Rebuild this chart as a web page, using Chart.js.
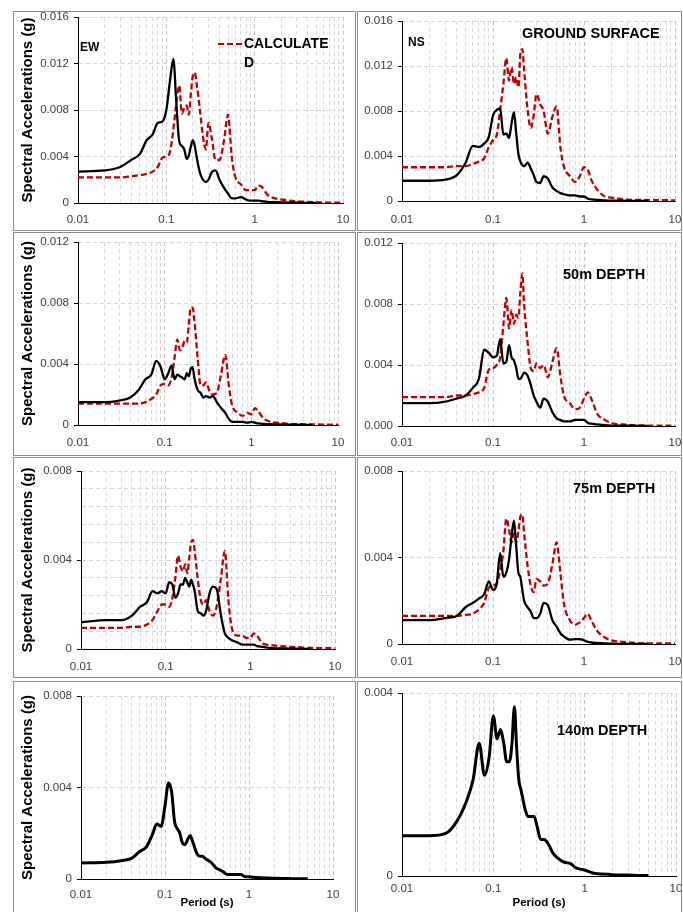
<!DOCTYPE html>
<html>
<head>
<meta charset="utf-8">
<script src="https://cdn.jsdelivr.net/npm/chart.js@4.4.0/dist/chart.umd.min.js"></script>
<style>
  html, body { margin: 0; padding: 0; background: #fff; }
  body { width: 683px; height: 912px; position: relative; overflow: hidden; }
  .panel { position: absolute; box-sizing: border-box; border: 1px solid #8c8c8c; background: #fff; }
  .panel canvas { display: block; }
</style>
</head>
<body>
<script>
// periods (s) shared by every curve
const periods = [
  0.01, 0.02, 0.03, 0.04, 0.05, 0.06, 0.07, 0.08, 0.09,
  0.1, 0.11, 0.12, 0.13, 0.14, 0.15, 0.16, 0.17, 0.18, 0.19,
  0.2, 0.21, 0.22, 0.24, 0.26, 0.28, 0.3, 0.33, 0.36, 0.4, 0.45, 0.5, 0.55, 0.6, 0.7, 0.8, 0.9,
  1.0, 1.1, 1.2, 1.4, 1.7, 2, 3, 4, 5, 7, 10
];
const xTicks = [
  0.01, 0.02, 0.03, 0.04, 0.05, 0.06, 0.07, 0.08, 0.09,
  0.1, 0.2, 0.3, 0.4, 0.5, 0.6, 0.7, 0.8, 0.9,
  1, 2, 3, 4, 5, 6, 7, 8, 9, 10
];
const xLabels = [0.01, 0.1, 1, 10];

// ground surface
const ewSurfObs = [
  0.0027, 0.0028, 0.0031, 0.0037, 0.0042, 0.0054, 0.0059, 0.0069, 0.0070,
  0.0080, 0.0105, 0.0124, 0.0085, 0.0053, 0.0049, 0.0046, 0.0038, 0.0041, 0.0049,
  0.0054, 0.0049, 0.0040, 0.0026, 0.0020, 0.0018, 0.0020, 0.0027, 0.0028, 0.0020, 0.0013, 0.0008, 0.0004, 0.0004, 0.0005, 0.0003, 0.0002,
  0.0002, 0.0002, 0.00015, 0.0001, 0.00007, 0.00005, 0.00002, 0.00001, 0.00001, null, null
];
const ewSurfCalc = [
  0.0022, 0.0022, 0.0022, 0.0023, 0.0024, 0.0025, 0.0027, 0.0031, 0.0039,
  0.0040, 0.0044, 0.0063, 0.0086, 0.0101, 0.0077, 0.0082, 0.0084, 0.0076, 0.0095,
  0.0110, 0.0112, 0.0103, 0.0080, 0.0057, 0.0046, 0.0069, 0.0054, 0.0037, 0.0037, 0.0054, 0.0076, 0.0040, 0.0023, 0.0016, 0.0011, 0.0011,
  0.0011, 0.0015, 0.0014, 0.0007, 0.0004, 0.0003, 0.00015, 0.0001, 0.00007, 0.00004, 0.00003
];
const nsSurfObs = [
  0.0018, 0.0018, 0.0019, 0.0023, 0.0034, 0.0049, 0.0048, 0.0051, 0.0057,
  0.0076, 0.0081, 0.0082, 0.0059, 0.0060, 0.0056, 0.0069, 0.0079, 0.0060, 0.0042,
  0.0035, 0.0032, 0.0031, 0.0034, 0.0029, 0.0023, 0.0017, 0.0016, 0.0022, 0.0020, 0.0012, 0.0009, 0.0007, 0.0006, 0.0005, 0.0005, 0.0004,
  0.0004, 0.0002, 0.00015, 0.0001, 0.00006, 0.00004, 0.00002, 0.00001, 0.00001, null, null
];
const nsSurfCalc = [
  0.0030, 0.0030, 0.0030, 0.0031, 0.0031, 0.0033, 0.0035, 0.0038, 0.0048,
  0.0054, 0.0059, 0.0081, 0.0104, 0.0127, 0.0107, 0.0119, 0.0104, 0.0110, 0.0101,
  0.0131, 0.0135, 0.0116, 0.0081, 0.0065, 0.0076, 0.0095, 0.0086, 0.0080, 0.0060, 0.0075, 0.0084, 0.0048, 0.0031, 0.0022, 0.0017, 0.0022,
  0.0030, 0.0028, 0.0019, 0.0010, 0.0004, 0.0003, 0.00012, 0.0001, 0.00008, 0.00007, 0.00006
];

// 50 m depth
const ew50Obs = [
  0.0015, 0.0015, 0.0016, 0.0018, 0.0023, 0.0030, 0.0033, 0.0042, 0.0038,
  0.0030, 0.0034, 0.0039, 0.0030, 0.0033, 0.0032, 0.0031, 0.0030, 0.0034, 0.0032,
  0.0037, 0.0038, 0.0031, 0.0023, 0.0021, 0.0018, 0.0019, 0.0018, 0.0019, 0.0015, 0.0011, 0.0008, 0.0004, 0.0002, 0.0002, 0.0002, 0.00015,
  0.0002, 0.00015, 0.0001, 0.00007, 0.00005, 0.00004, 0.00002, 0.00001, 0.00001, null, null
];
const ew50Calc = [
  0.0014, 0.0014, 0.0014, 0.0014, 0.0014, 0.0015, 0.0017, 0.0020, 0.0026,
  0.0027, 0.0026, 0.0031, 0.0044, 0.0056, 0.0049, 0.0051, 0.0055, 0.0054, 0.0066,
  0.0077, 0.0077, 0.0069, 0.0044, 0.0026, 0.0026, 0.0028, 0.0022, 0.0020, 0.0021, 0.0034, 0.0046, 0.0026, 0.0013, 0.0008, 0.0006, 0.0008,
  0.0007, 0.0011, 0.0009, 0.0004, 0.0002, 0.00015, 0.00006, 0.00005, 0.00004, 0.00003, 0.00003
];
const ns50Obs = [
  0.0015, 0.0015, 0.0016, 0.0018, 0.0020, 0.0025, 0.0031, 0.0050, 0.0048,
  0.0045, 0.0046, 0.0057, 0.0041, 0.0042, 0.0053, 0.0045, 0.0043, 0.0038, 0.0031,
  0.0031, 0.0033, 0.0035, 0.0033, 0.0027, 0.0020, 0.0016, 0.0012, 0.0018, 0.0016, 0.0009, 0.0005, 0.0004, 0.0003, 0.0003, 0.0004, 0.0004,
  0.0004, 0.0002, 0.00015, 0.0001, 0.00005, 0.00003, 0.00002, 0.00001, 0.00001, null, null
];
const ns50Calc = [
  0.0019, 0.0019, 0.0019, 0.0020, 0.0020, 0.0021, 0.0022, 0.0025, 0.0037,
  0.0038, 0.0040, 0.0045, 0.0066, 0.0084, 0.0064, 0.0076, 0.0067, 0.0073, 0.0071,
  0.0088, 0.0100, 0.0079, 0.0055, 0.0038, 0.0036, 0.0041, 0.0038, 0.0040, 0.0032, 0.0042, 0.0051, 0.0033, 0.0020, 0.0015, 0.0011, 0.0012,
  0.0018, 0.0022, 0.0018, 0.0008, 0.0004, 0.0002, 0.00008, 0.00004, 0.00003, 0.00003, 0.00003
];

// 75 m depth
const ew75Obs = [
  0.0012, 0.0013, 0.0013, 0.0015, 0.0019, 0.0021, 0.0026, 0.0025, 0.0026,
  0.0025, 0.0030, 0.0029, 0.0023, 0.0025, 0.0029, 0.0029, 0.0032, 0.0030, 0.0028,
  0.0031, 0.0029, 0.0026, 0.0017, 0.0016, 0.0015, 0.0017, 0.0025, 0.0028, 0.0027, 0.0015, 0.0007, 0.0005, 0.0004, 0.0003, 0.0002, 0.0002,
  0.0002, 0.0002, 0.00013, 0.0001, 0.00005, 0.00003, 0.00002, 0.00001, 0.00001, null, null
];
const ew75Calc = [
  0.00095, 0.00095, 0.00095, 0.0010, 0.0010, 0.0011, 0.0013, 0.0017, 0.0020,
  0.0020, 0.0019, 0.0023, 0.0032, 0.0042, 0.0037, 0.0035, 0.0038, 0.0034, 0.0041,
  0.0048, 0.0049, 0.0044, 0.0031, 0.0022, 0.0020, 0.0022, 0.0017, 0.0015, 0.0019, 0.0032, 0.0044, 0.0022, 0.0010, 0.0006, 0.0006, 0.0005,
  0.0005, 0.0007, 0.0006, 0.00025, 0.00018, 0.00015, 0.0001, 0.00007, 0.00005, 0.00004, 0.00003
];
const ns75Obs = [
  0.0011, 0.0011, 0.0012, 0.0013, 0.0017, 0.0019, 0.0021, 0.0023, 0.0029,
  0.0025, 0.0028, 0.0042, 0.0031, 0.0033, 0.0039, 0.0050, 0.0057, 0.0045, 0.0033,
  0.0031, 0.0025, 0.0020, 0.0017, 0.0015, 0.0012, 0.0012, 0.0014, 0.0019, 0.0018, 0.0011, 0.0008, 0.0005, 0.00035, 0.0002, 0.00023, 0.00023,
  0.00017, 0.0001, 0.00007, 0.00005, 0.00003, 0.00002, 0.00001, 0.00001, 0.00001, null, null
];
const ns75Calc = [
  0.0013, 0.0013, 0.0013, 0.0013, 0.00135, 0.0014, 0.0016, 0.0019, 0.0026,
  0.0027, 0.0028, 0.0034, 0.0043, 0.0058, 0.0053, 0.0047, 0.0051, 0.0047, 0.0052,
  0.0059, 0.0060, 0.0051, 0.0036, 0.0027, 0.0024, 0.0030, 0.0029, 0.0027, 0.0028, 0.0037, 0.0047, 0.0033, 0.0019, 0.0011, 0.0009, 0.0010,
  0.0012, 0.0014, 0.0011, 0.0006, 0.0003, 0.00017, 0.00008, 0.00004, 0.00003, 0.00003, 0.00003
];

// 140 m depth (recorded only)
const ew140Obs = [
  0.0007, 0.00073, 0.0008, 0.0009, 0.0012, 0.0014, 0.0019, 0.0024, 0.0023,
  0.0032, 0.0042, 0.0038, 0.0025, 0.0022, 0.0020, 0.0016, 0.0015, 0.0016, 0.0018,
  0.0019, 0.0017, 0.0015, 0.0011, 0.0010, 0.0010, 0.0009, 0.0008, 0.0007, 0.0005, 0.0004, 0.0003, 0.0002, 0.0002, 0.0002, 0.0002, 0.0001,
  0.0001, 0.00008, 0.00007, 0.00005, 0.00004, 0.00003, 0.00002, 0.00001, 0.00001, null, null
];
const ns140Obs = [
  0.00088, 0.00088, 0.00093, 0.0012, 0.0016, 0.0021, 0.0029, 0.0022, 0.0026,
  0.0035, 0.0030, 0.0032, 0.0029, 0.0025, 0.0025, 0.0029, 0.0037, 0.0028, 0.0021,
  0.0019, 0.0017, 0.0015, 0.0013, 0.0013, 0.0013, 0.0011, 0.0008, 0.0008, 0.0007, 0.0005, 0.0004, 0.00034, 0.0003, 0.00027, 0.00018, 0.00015,
  0.00013, 0.0001, 0.00007, 0.00005, 0.00004, 0.00003, 0.00002, 0.00001, 0.00001, null, null
];

const RED = '#c00000';
const FONT = "'Liberation Sans', Arial, sans-serif";
Chart.defaults.font.family = FONT;
Chart.defaults.color = '#404040';

// free text inside a panel (component labels, depth labels, the key)
const panelText = {
  id: 'panelText',
  afterDatasetsDraw(chart, args, opts) {
    const ctx = chart.ctx;
    ctx.save();
    ctx.fillStyle = '#000';
    ctx.textBaseline = 'middle';
    ctx.textAlign = 'left';
    (opts.items || []).forEach(([text, x, y, size]) => {
      ctx.font = 'bold ' + size + 'px ' + FONT;
      ctx.fillText(text, x, y);
    });
    if (opts.key) {
      const k = opts.key;
      ctx.strokeStyle = RED;
      ctx.lineWidth = 2.2;
      ctx.setLineDash([6, 3]);
      ctx.beginPath();
      ctx.moveTo(k.x1, k.y);
      ctx.lineTo(k.x2, k.y);
      ctx.stroke();
      ctx.setLineDash([]);
      ctx.font = 'bold 14px ' + FONT;
      k.lines.forEach((t, i) => ctx.fillText(t, k.x2 + 1, k.y + i * 19));
    }
    ctx.restore();
  }
};

const panels = [
  { box: [13, 11, 343, 220], plot: [78, 17, 343, 203], yMax: 0.016, obs: ewSurfObs, calc: ewSurfCalc,
    yTitle: true, xPad: 10, notes: [['EW', 80, 48, 12]], key: true },
  { box: [357, 11, 325, 220], plot: [402, 21, 675, 201], yMax: 0.016, obs: nsSurfObs, calc: nsSurfCalc,
    xPad: 12, notes: [['NS', 408, 43, 12], ['GROUND SURFACE', 522, 34, 14.5]] },
  { box: [13, 232, 343, 224], plot: [78, 242, 338, 425], yMax: 0.012, obs: ew50Obs, calc: ew50Calc,
    yTitle: true, xPad: 11, notes: [] },
  { box: [357, 232, 325, 224], plot: [402, 243, 675, 426], yMax: 0.012, obs: ns50Obs, calc: ns50Calc,
    xPad: 10, fixed3: true, notes: [['50m DEPTH', 563, 275, 14.5]] },
  { box: [13, 457, 343, 221], plot: [81, 471, 335, 649], yMax: 0.008, yStep: 0.0008, obs: ew75Obs, calc: ew75Calc,
    yTitle: true, xPad: 11, notes: [] },
  { box: [357, 457, 325, 221], plot: [402, 471, 675, 644], yMax: 0.008, obs: ns75Obs, calc: ns75Calc,
    xPad: 11, notes: [['75m DEPTH', 573, 489, 14.5]] },
  { box: [13, 681, 343, 232], plot: [81, 696, 333, 879], yMax: 0.008, obs: ew140Obs,
    yTitle: true, xTitle: true, xPad: 9, thick: true, notes: [] },
  { box: [357, 681, 325, 232], plot: [402, 693, 676, 876], yMax: 0.004, obs: ns140Obs,
    xTitle: true, xPad: 6, thick: true, notes: [['140m DEPTH', 557, 731, 14.5]] }
];

function toPoints(ys) {
  return periods.map((x, i) => ({ x: x, y: ys[i] })).filter(p => p.y !== null);
}

function isMajorY(v) {
  const r = v / 0.004;
  return Math.abs(r - Math.round(r)) < 1e-6;
}

panels.forEach(p => {
  const [bx, by, bw, bh] = p.box;
  const [pl, pt, pr, pb] = p.plot;
  const x0 = bx + 1, y0 = by + 1, W = bw - 2, H = bh - 2;

  const div = document.createElement('div');
  div.className = 'panel';
  div.style.left = bx + 'px';
  div.style.top = by + 'px';
  div.style.width = bw + 'px';
  div.style.height = bh + 'px';
  const canvas = document.createElement('canvas');
  canvas.width = W;
  canvas.height = H;
  canvas.style.width = W + 'px';
  canvas.style.height = H + 'px';
  div.appendChild(canvas);
  document.body.appendChild(div);

  const datasets = [{
    label: 'RECORDED',
    data: toPoints(p.obs),
    borderColor: '#000',
    borderWidth: p.thick ? 3 : 2.3,
    cubicInterpolationMode: 'monotone',
    pointRadius: 0
  }];
  if (p.calc) {
    datasets.push({
      label: 'CALCULATED',
      data: toPoints(p.calc),
      borderColor: RED,
      borderWidth: 2.3,
      borderDash: [6, 3],
      cubicInterpolationMode: 'monotone',
      pointRadius: 0
    });
  }

  const items = p.notes.map(([t, x, y, s]) => [t, x - x0, y - y0, s]);
  const key = p.key ? { x1: 218 - x0, x2: 243 - x0, y: 44 - y0, lines: ['CALCULATE', 'D'] } : null;

  new Chart(canvas, {
    type: 'line',
    data: { datasets: datasets },
    plugins: [panelText],
    options: {
      responsive: false,
      animation: false,
      events: [],
      layout: { padding: { left: 0, top: pt - y0, right: x0 + W - pr, bottom: 0 } },
      plugins: {
        legend: { display: false },
        tooltip: { enabled: false },
        panelText: { items: items, key: key }
      },
      scales: {
        x: {
          type: 'logarithmic',
          min: 0.01,
          max: 10,
          afterBuildTicks: s => { s.ticks = xTicks.map(v => ({ value: v })); },
          afterFit: s => { s.height = y0 + H - pb; s.paddingLeft = 0; s.paddingRight = 0; },
          ticks: {
            autoSkip: false,
            maxRotation: 0,
            padding: p.xPad,
            font: { size: 11.5 },
            callback: v => xLabels.includes(v) ? String(v) : ''
          },
          grid: {
            color: c => xLabels.includes(c.tick && c.tick.value) ? '#c4c4c4' : '#d9d9d9',
            drawTicks: false
          },
          border: { display: true, color: '#000', width: 1, dash: [4, 3] },
          title: {
            display: !!p.xTitle,
            text: 'Period (s)',
            color: '#000',
            font: { size: 11.5, weight: 'bold' },
            padding: { top: 0, bottom: 2 }
          }
        },
        y: {
          min: 0,
          max: p.yMax,
          afterFit: s => { s.width = pl - x0; s.paddingTop = 0; s.paddingBottom = 0; },
          ticks: {
            stepSize: p.yStep || 0.004,
            padding: 5,
            font: { size: 11.5 },
            callback: v => {
              if (!isMajorY(v)) return '';
              if (p.fixed3) return v.toFixed(3);
              return v === 0 ? '0' : v.toFixed(3);
            }
          },
          grid: {
            color: '#d4d4d4',
            tickLength: 4,
            tickColor: c => isMajorY(c.tick.value) ? '#000' : 'rgba(0,0,0,0)'
          },
          border: { display: true, color: '#000', width: 1, dash: [4, 3] },
          title: {
            display: !!p.yTitle,
            text: 'Spectral Accelerations (g)',
            color: '#000',
            font: { size: 15, weight: 'bold' },
            padding: { top: 5, bottom: 0 }
          }
        }
      }
    }
  });
});
</script>
</body>
</html>
